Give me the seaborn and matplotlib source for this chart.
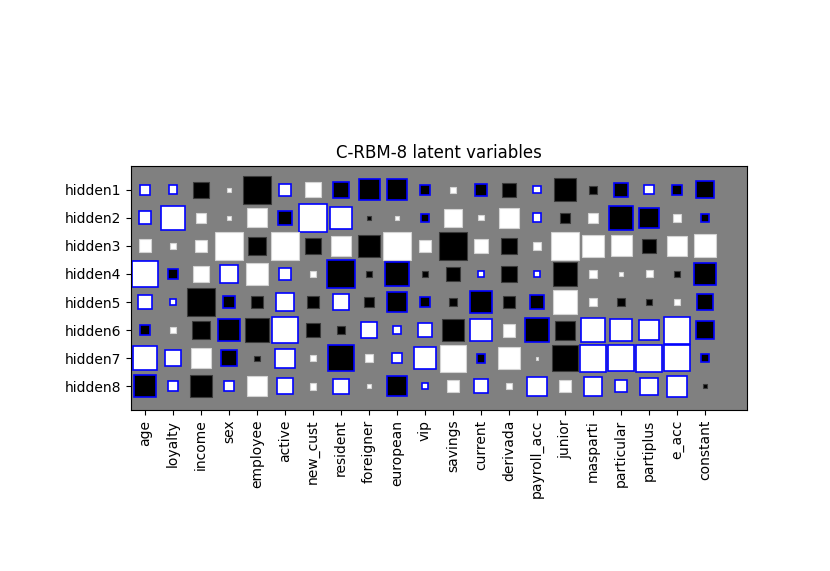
import matplotlib
matplotlib.use('Agg')
import matplotlib.pyplot as plt
from matplotlib.patches import Rectangle
import numpy as np
import seaborn as sns

# ── 数据：每个单元格的方块边长（带符号：正=白，负=黑），以及蓝框标记 ──
features = ['age', 'loyalty', 'income', 'sex', 'employee', 'active', 'new_cust',
            'resident', 'foreigner', 'european', 'vip', 'savings', 'current',
            'derivada', 'payroll_acc', 'junior', 'masparti', 'particular',
            'partiplus', 'e_acc', 'constant']
hidden = ['hidden1', 'hidden2', 'hidden3', 'hidden4',
          'hidden5', 'hidden6', 'hidden7', 'hidden8']

h1 = [0.36, 0.31, -0.57, 0.12, -1.0, 0.45, 0.54, -0.58, -0.75, -0.74, -0.36,
      0.20, -0.44, -0.49, 0.26, -0.81, -0.29, -0.48, 0.33, -0.37, -0.61]
h2 = [0.46, 0.83, 0.38, 0.17, 0.68, -0.51, 1.0, 0.79, -0.15, 0.12, -0.27,
      0.62, 0.18, 0.70, 0.32, -0.36, 0.36, -0.87, -0.73, 0.26, -0.29]
h3 = [0.46, 0.19, 0.44, 1.0, -0.67, 1.0, -0.55, 0.74, -0.80, 1.0, 0.42,
      -1.0, 0.49, -0.56, 0.27, 0.99, 0.79, 0.75, -0.48, 0.73, 0.82]
h4 = [0.96, -0.35, 0.57, 0.64, 0.80, 0.45, 0.24, -0.99, -0.20, -0.85, -0.18,
      -0.50, 0.24, -0.58, 0.23, -0.86, 0.29, 0.14, 0.25, -0.19, -0.79]
h5 = [0.52, 0.20, -1.0, -0.40, -0.46, 0.67, -0.42, 0.54, -0.33, -0.70, -0.33,
      -0.26, -0.80, -0.46, -0.48, 0.86, 0.26, -0.30, -0.24, 0.23, -0.55]
h6 = [-0.37, 0.19, -0.65, -0.79, -0.87, 0.94, -0.48, -0.26, 0.56, 0.27, 0.52,
      -0.80, 0.79, 0.46, -0.87, -0.68, 0.85, 0.77, 0.73, 0.96, -0.65]
h7 = [0.85, 0.58, 0.71, -0.57, -0.18, 0.68, 0.19, -0.92, 0.29, 0.35, 0.77,
      0.96, -0.32, 0.80, 0.10, -0.92, 0.96, 0.92, 0.96, 0.90, -0.26]
h8 = [-0.77, 0.36, -0.79, 0.36, 0.73, 0.58, 0.24, 0.54, 0.14, -0.71, 0.23,
      0.45, 0.48, 0.19, 0.68, 0.42, 0.67, 0.44, 0.61, 0.74, -0.15]

# 蓝框 = 1
b1 = [1, 1, 0, 0, 0, 1, 0, 1, 1, 1, 1, 0, 1, 0, 1, 0, 0, 1, 1, 1, 1]
b2 = [1, 1, 0, 0, 0, 1, 1, 1, 0, 0, 1, 0, 0, 0, 1, 0, 0, 1, 1, 0, 1]
b3 = [0, 0, 0, 0, 0, 0, 0, 0, 0, 0, 0, 0, 0, 0, 0, 0, 0, 0, 0, 0, 0]
b4 = [1, 1, 0, 1, 0, 1, 0, 1, 0, 1, 0, 0, 1, 0, 1, 0, 0, 0, 0, 0, 1]
b5 = [1, 1, 0, 1, 0, 1, 0, 1, 0, 1, 1, 0, 1, 0, 1, 0, 0, 0, 0, 0, 1]
b6 = [1, 0, 0, 1, 0, 1, 0, 0, 1, 1, 1, 0, 1, 0, 1, 0, 1, 1, 1, 1, 1]
b7 = [1, 1, 0, 1, 0, 1, 0, 1, 0, 1, 1, 0, 1, 0, 0, 0, 1, 1, 1, 1, 1]
b8 = [1, 1, 0, 1, 0, 1, 0, 1, 0, 1, 1, 0, 1, 0, 1, 0, 1, 1, 1, 1, 0]

sizes = np.array([h1, h2, h3, h4, h5, h6, h7, h8])
blue = np.array([b1, b2, b3, b4, b5, b6, b7, b8])

sns.set_style('ticks')
plt.rcParams['font.family'] = ['DejaVu Sans']
plt.rcParams['text.color'] = 'black'
plt.rcParams['axes.labelcolor'] = 'black'

fig = plt.figure(figsize=(8.3, 5.71), dpi=100)
ax = fig.add_axes([131 / 830, 1 - 410 / 571, 616 / 830, 244 / 571])
ax.set_facecolor('gray')

for i in range(sizes.shape[0]):
    for j in range(sizes.shape[1]):
        v = sizes[i, j]
        s = abs(v)
        face = 'white' if v > 0 else 'black'
        if blue[i, j]:
            edge, lw = 'blue', 1.2
        else:
            edge, lw = ('#d4d4d4' if v > 0 else '#3a3a3a'), 0.8
        ax.add_patch(Rectangle((j - s / 2, i - s / 2), s, s,
                               facecolor=face, edgecolor=edge, linewidth=lw))

ax.set_xlim(-0.5, 21.5)
ax.set_ylim(7.85, -0.85)
ax.set_xticks(range(len(features)))
ax.set_xticklabels(features, rotation=90, fontsize=10, color='black')
ax.set_yticks(range(len(hidden)))
ax.set_yticklabels(hidden, fontsize=10, color='black')
ax.tick_params(direction='out', length=3.5, width=0.8, colors='black')
for sp in ax.spines.values():
    sp.set_color('black')
    sp.set_linewidth(0.8)
ax.set_title('C-RBM-8 latent variables', fontsize=12, color='black')

fig.savefig('out.png', dpi=100)
plt.close()
